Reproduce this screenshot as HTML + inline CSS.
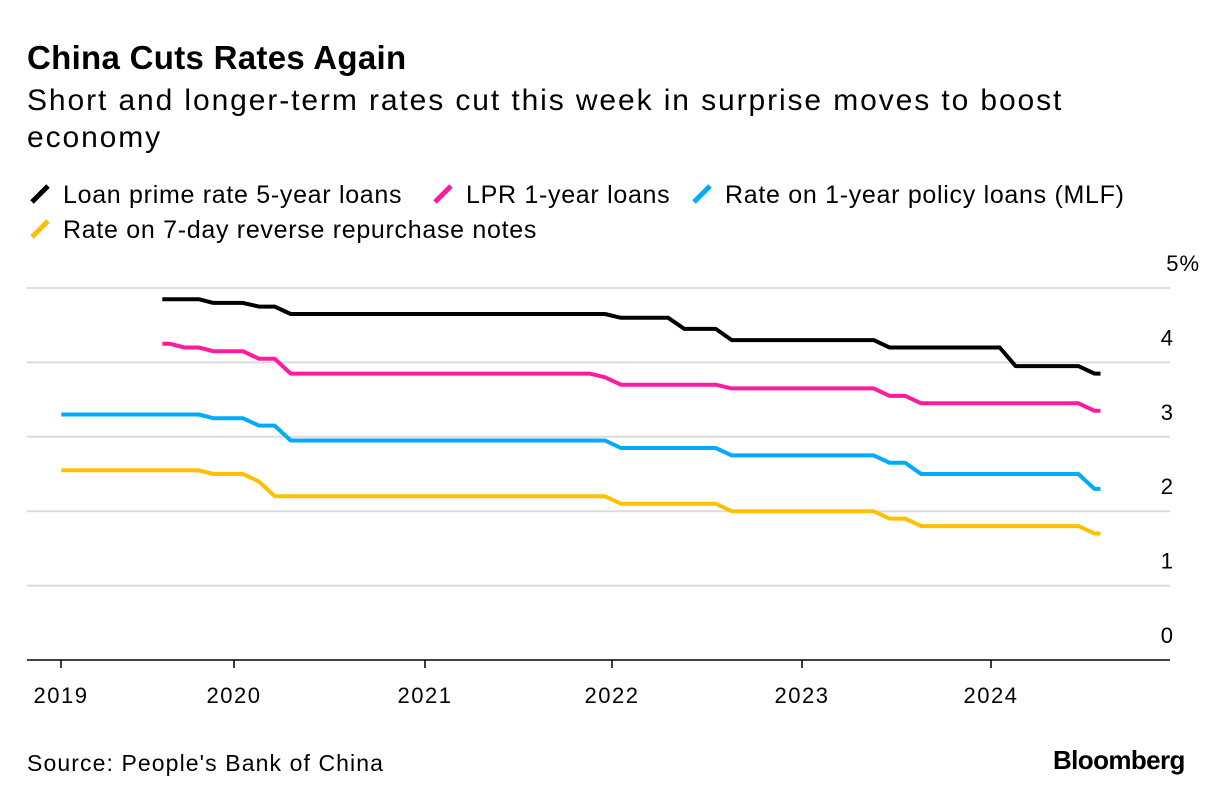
<!DOCTYPE html>
<html><head><meta charset="utf-8">
<style>
body{margin:0;background:#fff;font-family:"Liberation Sans",sans-serif;}
#wrap{position:relative;width:1225px;height:802px;overflow:hidden;}
.t{position:absolute;white-space:nowrap;color:#000;}
</style></head><body>
<div id="wrap">
<div class="t" style="left:27px;top:39px;font-size:33px;font-weight:bold;letter-spacing:0.3px">China Cuts Rates Again</div>
<div class="t" style="left:27px;top:82px;font-size:30px;line-height:37px;letter-spacing:1.9px;white-space:normal;width:1100px">Short and longer-term rates cut this week in surprise moves to boost economy</div>
<svg id="svg" width="1225" height="802" style="position:absolute;left:0;top:0"></svg>
<div class="t" style="left:27px;top:750px;font-size:23px;letter-spacing:1.1px">Source: People's Bank of China</div>
<div class="t" style="left:1053px;top:745px;font-size:26px;font-weight:bold;letter-spacing:-0.6px">Bloomberg</div>
</div>
<script>
const yTicks=[0,1,2,3,4,5];
const yTickLabels=["0","1","2","3","4","5%"];
const xYears=[2019,2020,2021,2022,2023,2024];
const seriesNames=["Loan prime rate 5-year loans","LPR 1-year loans","Rate on 1-year policy loans (MLF)","Rate on 7-day reverse repurchase notes"];
const seriesColors=["#000000","#ff1a9e","#00aaff","#ffc000"];
const lpr5Events=[[2019,8,4.85],[2019,11,4.80],[2020,2,4.75],[2020,4,4.65],[2022,1,4.60],[2022,5,4.45],[2022,8,4.30],[2023,6,4.20],[2024,2,3.95],[2024,7,3.85]];
const lpr1Events=[[2019,8,4.25],[2019,9,4.20],[2019,11,4.15],[2020,2,4.05],[2020,4,3.85],[2021,12,3.80],[2022,1,3.70],[2022,8,3.65],[2023,6,3.55],[2023,8,3.45],[2024,7,3.35]];
const mlfEvents=[[2019,1,3.30],[2019,11,3.25],[2020,2,3.15],[2020,4,2.95],[2022,1,2.85],[2022,8,2.75],[2023,6,2.65],[2023,8,2.50],[2024,7,2.30]];
const repoEvents=[[2019,1,2.55],[2019,11,2.50],[2020,2,2.40],[2020,3,2.20],[2022,1,2.10],[2022,8,2.00],[2023,6,1.90],[2023,8,1.80],[2024,7,1.70]];
const allEvents=[lpr5Events,lpr1Events,mlfEvents,repoEvents];
const endDate=[2024,7.95];

const NS="http://www.w3.org/2000/svg";
const svg=document.getElementById('svg');
const tickPx=[61,234,425,612,802,991];
function x(t){
  let i=Math.min(Math.max(Math.floor(t-2019),0),4);
  return tickPx[i]+(t-xYears[i])*(tickPx[i+1]-tickPx[i]);
}
function y(v){return 660-v*74.4;}
function mk(tag,attrs){const e=document.createElementNS(NS,tag);for(const k in attrs)e.setAttribute(k,attrs[k]);svg.appendChild(e);return e;}

yTicks.forEach((v,i)=>{
  if(v>0){const g=mk('line',{x1:27,x2:1170,y1:y(v),y2:y(v),stroke:'#dcdcdc','stroke-width':2});
  
  }
  const tx=mk('text',{x:1174,y:y(v)-17,'text-anchor':'end','font-size':22,'letter-spacing':1,'font-family':'Liberation Sans, sans-serif'});
  tx.textContent=yTickLabels[i];
  if(v===5)tx.setAttribute('x',1200);
  
  
});
const ax=mk('line',{x1:27,x2:1170,y1:660,y2:660,stroke:'#000','stroke-width':1.5});


xYears.forEach(yr=>{
  const tk=mk('line',{x1:x(yr),x2:x(yr),y1:660,y2:668,stroke:'#000','stroke-width':1.5});
  
  
  const tx=mk('text',{x:x(yr),y:703,'text-anchor':'middle','font-size':22,'letter-spacing':1.5,'font-family':'Liberation Sans, sans-serif'});
  tx.textContent=yr;
  
  
});
const shift=0.045;
allEvents.forEach((ev,si)=>{
  const pts=[];
  const endT=endDate[0]+(endDate[1]-1)/12;
  for(let k=0;k<ev.length;k++){
    const t=ev[k][0]+(ev[k][1]-1)/12+(k===0?0:shift);
    if(k>0)pts.push([t-1/12+0.001,ev[k-1][2]]);
    pts.push([t+0.002,ev[k][2]]);
  }
  const last=ev[ev.length-1];
  const lastT=last[0]+(last[1]-1)/12+shift;
  if(endT>lastT)pts.push([endT,last[2]]);
  const d=pts.map((p,i)=>(i?'L':'M')+x(p[0]).toFixed(1)+','+y(p[1]).toFixed(1)).join(' ');
  const p=mk('path',{d:d,fill:'none',stroke:seriesColors[si],'stroke-width':4,'stroke-linejoin':'round'});
  
  
});
const legPos=[[30,194],[433,194],[692,194],[30,229]];
seriesNames.forEach((n,i)=>{
  const [lx,ly]=legPos[i];
  const m=mk('line',{x1:lx+2,y1:ly+8,x2:lx+18,y2:ly-8,stroke:seriesColors[i],'stroke-width':5});
  
  
  const t=mk('text',{x:lx+33,y:ly+9,'font-size':25,'letter-spacing':0.7,'font-family':'Liberation Sans, sans-serif'});
  t.textContent=n;
  
  
});
</script>
</body></html>
